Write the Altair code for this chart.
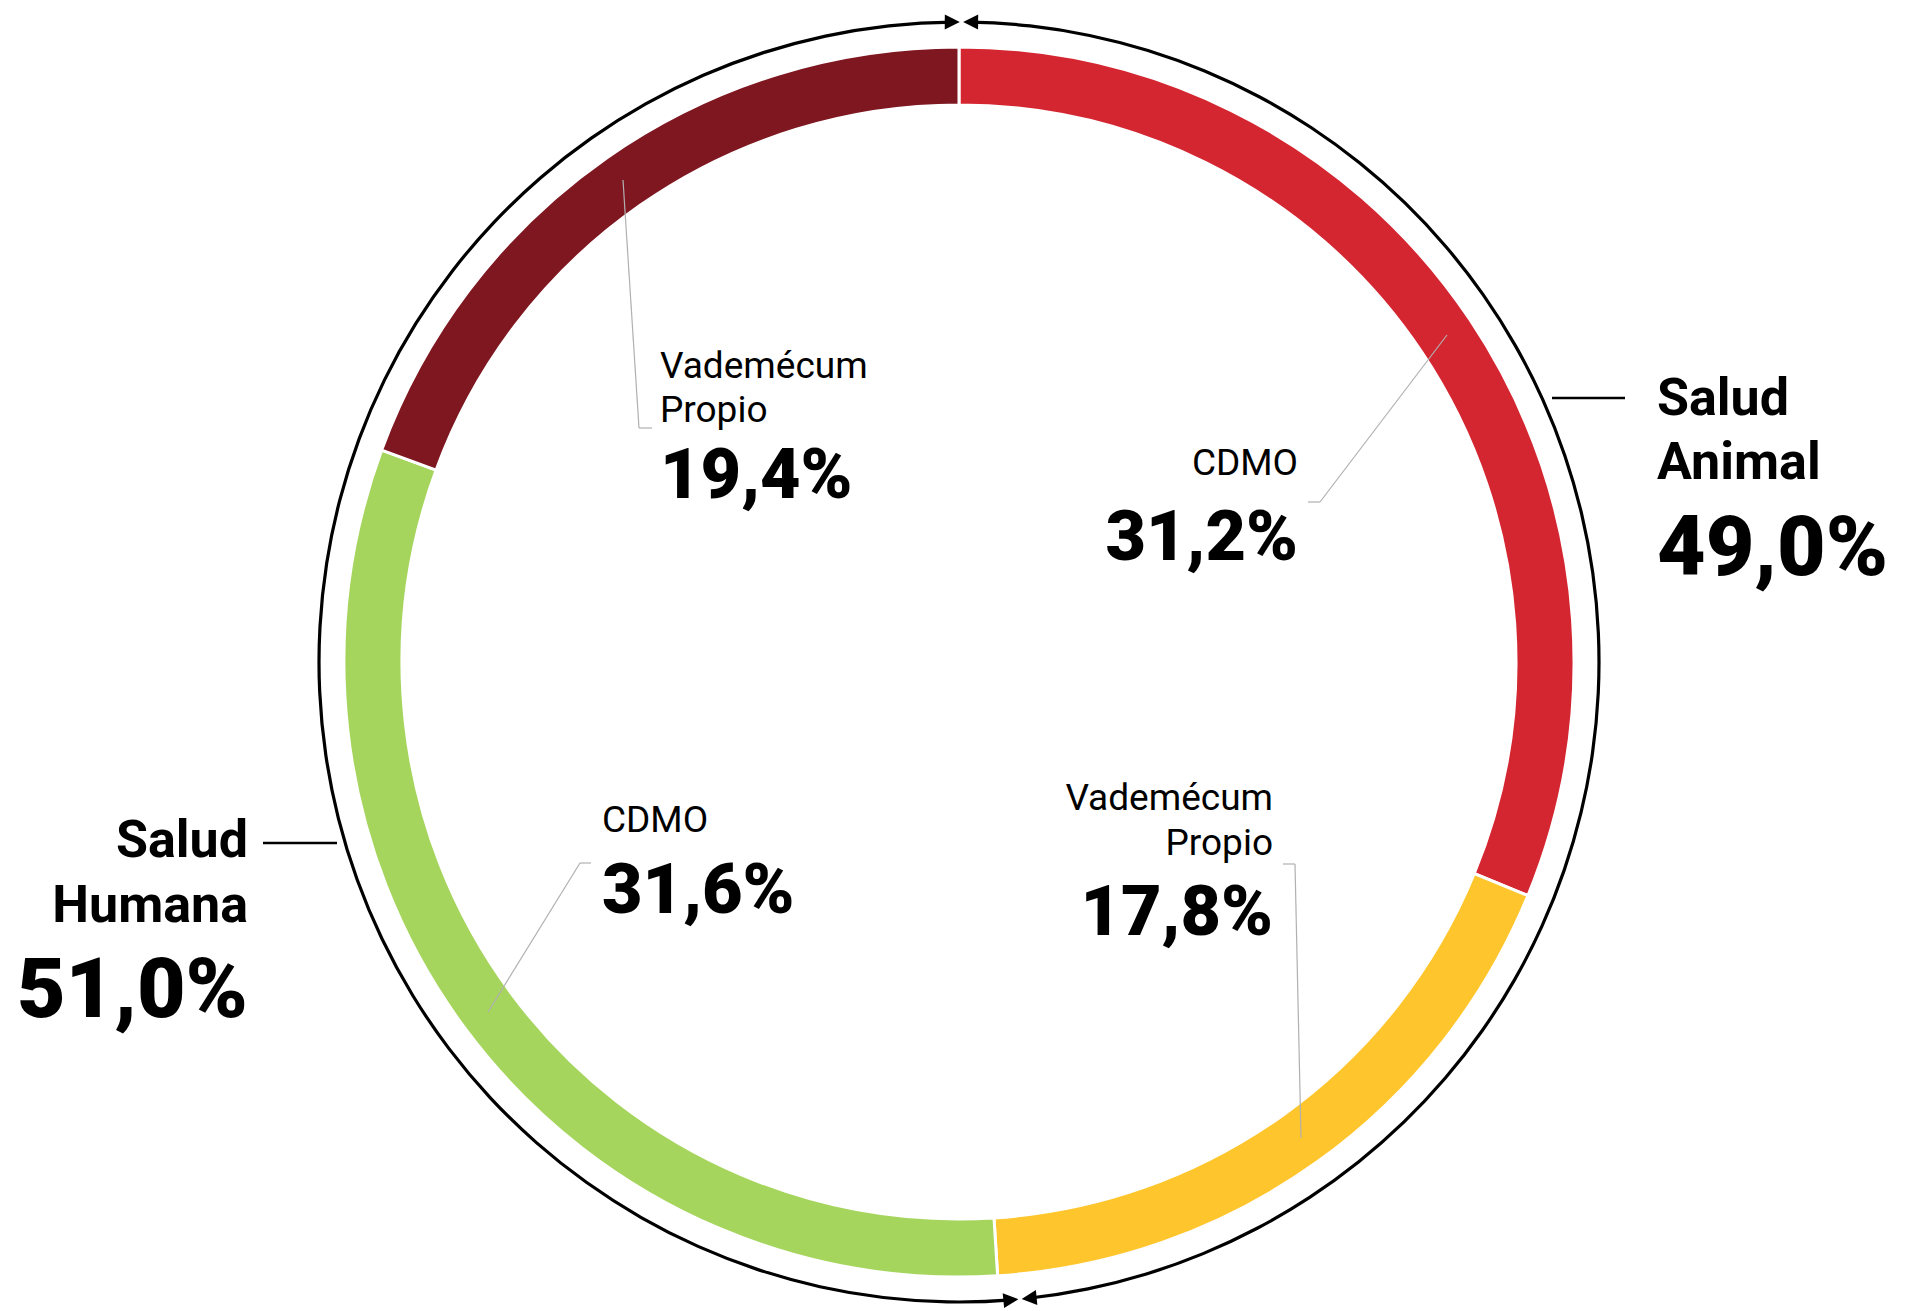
import math
import altair as alt
import pandas as pd

# ---------------- data ----------------
segments = ["CDMO", "Vademécum Propio", "CDMO", "Vademécum Propio"]
seg_groups = ["Salud Animal", "Salud Animal", "Salud Humana", "Salud Humana"]
seg_values = [31.2, 17.8, 31.6, 19.4]
seg_colors = ["#D42631", "#FEC62C", "#A6D55E", "#7E1720"]

group_names = ["Salud Animal", "Salud Humana"]
group_values = [49.0, 51.0]


def pct(v):
    return f"{v:.1f}".replace(".", ",") + "%"


# ---------------- layout ----------------
W, H = 1889, 1303
OFF = 8
CX, CY = 959 - OFF, 662 - OFF
R_OUT, R_IN = 615, 557
R_RING = 640
RING_MEET_DEG = [0.22, 174.53]   # where the arrow tips meet (top, bottom)
TIP_GAP_DEG = 0.3
ARROW_DEG = 1.0

theta_scale = alt.Scale(domain=[0, 100], range=[0, 2 * math.pi])

# donut
donut_df = pd.DataFrame({
    "idx": range(len(segments)),
    "key": [f"s{i}" for i in range(len(segments))],
    "segment": segments,
    "group": seg_groups,
    "value": seg_values,
})
donut = alt.Chart(donut_df).mark_arc(
    radius=R_OUT, radius2=R_IN, stroke="white", strokeWidth=3
).encode(
    theta=alt.Theta("value:Q", stack=True, scale=theta_scale),
    order=alt.Order("idx:Q"),
    color=alt.Color("key:N", scale=alt.Scale(domain=list(donut_df["key"]), range=seg_colors), legend=None),
    x=alt.value(CX),
    y=alt.value(CY),
)

# outer ring split by group, with arrowheads meeting at the borders
top, bot = RING_MEET_DEG
half = TIP_GAP_DEG / 2
ring_start = [top + half + ARROW_DEG * 0.6, bot + half + ARROW_DEG * 0.6]
ring_end = [bot - half - ARROW_DEG * 0.6, 360 + top - half - ARROW_DEG * 0.6]
ring_df = pd.DataFrame({
    "group": group_names,
    "start": [a / 3.6 for a in ring_start],
    "end": [b / 3.6 for b in ring_end],
})
ring = alt.Chart(ring_df).mark_arc(
    radius=R_RING + 1.6, radius2=R_RING - 1.6, color="black"
).encode(
    theta=alt.Theta("start:Q", scale=theta_scale),
    theta2="end:Q",
    x=alt.value(CX),
    y=alt.value(CY),
)

# arrowheads (tip at origin of custom symbol)
tips = [
    (top + half, "ccw"),          # Salud Animal start
    (bot - half, "cw"),           # Salud Animal end
    (bot + half, "ccw"),          # Salud Humana start
    (360 + top - half, "cw"),     # Salud Humana end
]
arr_rows = []
for th, d in tips:
    rad = math.radians(th)
    arr_rows.append({
        "px": CX + R_RING * math.sin(rad),
        "py": CY - R_RING * math.cos(rad),
        "rot": (th if d == "cw" else th + 180) % 360,
    })
arrow_df = pd.DataFrame(arr_rows)
arrows = alt.Chart(arrow_df).mark_point(
    shape="M0,0L-2,-1L-2,1Z", filled=True, size=225, color="black", opacity=1, strokeWidth=0
).encode(
    x=alt.X("px:Q", scale=None),
    y=alt.Y("py:Q", scale=None),
    angle=alt.Angle("rot:Q", scale=None),
)

# leader lines (page coordinates)
group_leaders = [
    (1552, 398, 1625, 398),
    (263, 843, 337, 843),
]
slice_leaders = [
    (623, 180, 639, 428), (639, 428, 652, 428),
    (1447, 335, 1320, 502), (1320, 502, 1308, 502),
    (488, 1012, 580, 863), (580, 863, 591, 863),
    (1283, 864, 1295, 864), (1295, 864, 1301, 1138),
]


def rules(segs, color, width):
    df = pd.DataFrame([
        {"x1": a - OFF, "y1": b - OFF, "x2": c - OFF, "y2": d - OFF} for a, b, c, d in segs
    ])
    return alt.Chart(df).mark_rule(color=color, strokeWidth=width).encode(
        x=alt.X("x1:Q", scale=None), y=alt.Y("y1:Q", scale=None),
        x2="x2:Q", y2="y2:Q",
    )


# texts: (text, x, y, style, align)
texts = [
    ("Salud", 1657, 415, "gname", "left"),
    ("Animal", 1657, 479, "gname", "left"),
    (pct(group_values[0]), 1657, 575, "gpct", "left"),
    ("Salud", 248, 857, "gname", "right"),
    ("Humana", 248, 922, "gname", "right"),
    (pct(group_values[1]), 248, 1017, "gpct", "right"),
    ("Vademécum", 660, 378, "sname", "left"),
    ("Propio", 660, 422, "sname", "left"),
    (pct(seg_values[3]), 660, 498, "spct", "left"),
    (segments[0], 1298, 475, "sname", "right"),
    (pct(seg_values[0]), 1298, 560, "spct", "right"),
    (segments[2], 602, 832, "sname", "left"),
    (pct(seg_values[2]), 602, 913, "spct", "left"),
    ("Vademécum", 1273, 810, "sname", "right"),
    ("Propio", 1273, 855, "sname", "right"),
    (pct(seg_values[1]), 1273, 935, "spct", "right"),
]
text_df = pd.DataFrame(texts, columns=["text", "x", "y", "style", "align"])
text_df["x"] -= OFF
text_df["y"] -= OFF

styles = {
    "gname": dict(fontSize=52, fontWeight="bold"),
    "gpct": dict(fontSize=84, fontWeight=900),
    "sname": dict(fontSize=37, fontWeight="normal"),
    "spct": dict(fontSize=70, fontWeight=900),
}

text_layers = []
for st, props in styles.items():
    for al in ["left", "right"]:
        sub = text_df[(text_df["style"] == st) & (text_df["align"] == al)]
        if len(sub) == 0:
            continue
        text_layers.append(
            alt.Chart(sub).mark_text(
                font="Roboto", align=al, baseline="alphabetic", color="black", **props
            ).encode(
                x=alt.X("x:Q", scale=None),
                y=alt.Y("y:Q", scale=None),
                text="text:N",
            )
        )

chart = alt.layer(
    donut, ring, arrows,
    rules(group_leaders, "black", 2.5),
    rules(slice_leaders, "#b0b0b0", 1.2),
    *text_layers,
).properties(
    width=W, height=H, padding=0, autosize=alt.AutoSizeParams(type="none"),
    background="white",
).configure_view(stroke=None)

chart.save("out.html", embed_options={"renderer": "svg", "actions": False})
